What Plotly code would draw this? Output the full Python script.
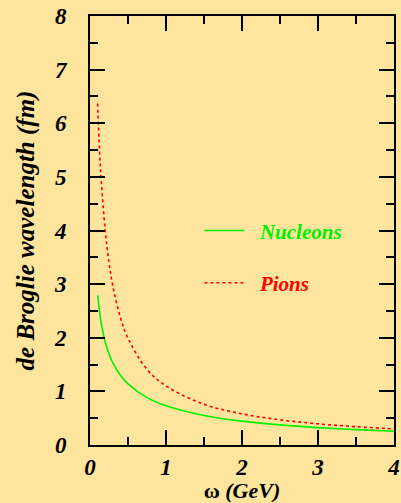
import plotly.graph_objects as go

omega = [0.1, 0.125, 0.15, 0.2, 0.25, 0.3, 0.4, 0.5, 0.75, 1.0, 1.5, 2.0, 2.5, 3.0, 3.5, 4.0]
nucleons = [2.79, 2.50, 2.25, 1.92, 1.70, 1.53, 1.30, 1.14, 0.883, 0.731, 0.551, 0.445, 0.375, 0.324, 0.286, 0.256]
pions = [6.37, 5.50, 4.89, 4.01, 3.40, 2.97, 2.38, 1.99, 1.41, 1.10, 0.759, 0.581, 0.470, 0.395, 0.341, 0.300]

bg = "#fde59d"
serif = "Liberation Serif"
green = "#00f000"
red = "#ff0000"

fig = go.Figure()
fig.add_trace(go.Scatter(x=omega, y=nucleons, mode="lines",
                         name=f"  <span style='color:{green}'>Nucleons</span>",
                         line=dict(color=green, width=1.6, shape="spline"),
                         legendgroup="n"))
fig.add_trace(go.Scatter(x=omega, y=pions, mode="lines",
                         name=f"  <span style='color:{red}'>Pions</span>",
                         line=dict(color=red, width=1.6, dash="dot", shape="spline"),
                         legendgroup="p"))

axis_common = dict(
    showgrid=False, zeroline=False, showline=True, linecolor="black", linewidth=2,
    mirror="ticks", ticks="inside", ticklen=15, tickwidth=1.5, tickcolor="black",
    tickfont=dict(family=serif, size=23, color="black", weight="bold", style="italic"),
    minor=dict(ticks="inside", ticklen=8, tickwidth=1.5, tickcolor="black", dtick=0.5),
    automargin=False,
)

fig.update_xaxes(range=[0, 4], dtick=1, ticklabelstandoff=0,
                 title=dict(text="ω <i>(GeV)</i>", font=dict(family=serif, size=22, color="black", weight="bold"), standoff=6),
                 **axis_common)
fig.update_yaxes(range=[0, 8], dtick=1, ticklabelstandoff=17,
                 title=dict(text="<i>de Broglie wavelength (fm)</i>", font=dict(family=serif, size=25, color="black", weight="bold"), standoff=12),
                 **axis_common)

fig.update_layout(
    width=401, height=503,
    paper_bgcolor=bg, plot_bgcolor=bg,
    margin=dict(l=90, r=7, t=16, b=58),
    showlegend=True,
    legend=dict(x=0.36, y=0.547, xanchor="left", yanchor="top", bgcolor="rgba(0,0,0,0)",
                tracegroupgap=22, traceorder="grouped", itemwidth=40,
                font=dict(family=serif, size=21, color="black", weight="bold", style="italic")),
)

fig.write_html("out.html")
